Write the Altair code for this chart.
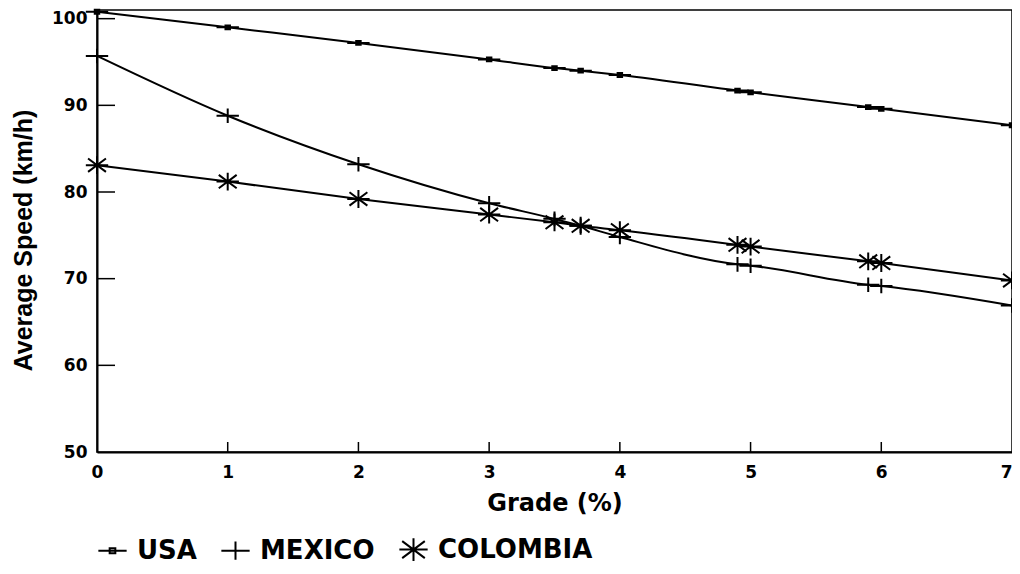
import altair as alt
import pandas as pd

grade = [0, 1, 2, 3, 3.5, 3.7, 4, 4.9, 5, 5.9, 6, 7]
usa = [100.8, 99.0, 97.2, 95.3, 94.3, 94.0, 93.5, 91.7, 91.5, 89.8, 89.6, 87.7]
mexico = [95.7, 88.8, 83.2, 78.7, 76.9, 76.1, 74.8, 71.65, 71.5, 69.3, 69.15, 66.9]
colombia = [83.1, 81.2, 79.2, 77.4, 76.5, 76.1, 75.6, 73.9, 73.7, 72.0, 71.8, 69.8]
series = ["USA", "MEXICO", "COLOMBIA"]
x_ticks = [1, 2, 3, 4, 5, 6]
y_ticks = [60, 70, 80, 90, 100]

rows = []
for name, vals in zip(series, [usa, mexico, colombia]):
    for g, v in zip(grade, vals):
        rows.append({"grade": g, "speed": v, "series": name})
df = pd.DataFrame(rows)

W, H = 915, 442
FONT = "DejaVu Sans"

shape_paths = [
    "M-1,0L1,0M-0.2,-0.17L0.2,-0.17L0.2,0.17L-0.2,0.17Z",
    "M-1,0L1,0M0,-0.65L0,0.65",
    "M-1,0L1,0M0,-0.8L0,0.8M-0.8,-0.6L0.8,0.6M-0.8,0.6L0.8,-0.6",
]

xs = alt.Scale(domain=[0, 7], nice=False, zero=False)
ys = alt.Scale(domain=[50, 101], nice=False, zero=False)

x_axis = alt.Axis(
    values=list(range(0, 8)), format="d", grid=False, ticks=False, tickSize=0,
    domainColor="black", domainWidth=2, labelFlush=False,
    labelAlign={"expr": "datum.value == 7 ? 'right' : 'center'"},
    labelFont=FONT, labelFontWeight="bold", labelFontSize=17, labelColor="black",
    labelBaseline="alphabetic", labelPadding=25,
    title="Grade (%)", titleFont=FONT, titleFontWeight="bold", titleFontSize=24,
    titleColor="black", titleBaseline="alphabetic", titleY=58,
)
y_axis = alt.Axis(
    values=[50, 60, 70, 80, 90, 100], grid=False, ticks=False, tickSize=0,
    domainColor="black", domainWidth=2, labelFlush=False,
    labelFont=FONT, labelFontWeight="bold", labelFontSize=17, labelColor="black",
    labelPadding=10, labelBaseline="middle",
    title="Average Speed (km/h)", titleFont="Liberation Sans", titleFontWeight="bold",
    titleFontSize=25, titleColor="black", titleAngle=270, titleBaseline="middle",
    titleX=-74, titleY=230,
)

base = alt.Chart(df)
lines = base.mark_line(color="black", strokeWidth=2, interpolate="monotone").encode(
    x=alt.X("grade:Q", scale=xs, axis=x_axis),
    y=alt.Y("speed:Q", scale=ys, axis=y_axis),
    detail="series:N",
)
points = base.mark_point(filled=False, color="black", strokeWidth=2, opacity=1, size=500).encode(
    x=alt.X("grade:Q", scale=xs),
    y=alt.Y("speed:Q", scale=ys),
    shape=alt.Shape(
        "series:N",
        scale=alt.Scale(domain=series, range=shape_paths),
        sort=series,
        legend=alt.Legend(
            orient="none", legendX=0, legendY=524, direction="horizontal", title=None,
            labelFont=FONT, labelFontWeight="bold", labelFontSize=26, labelColor="black",
            labelOffset=9, columnPadding=20, padding=0, symbolSize=800,
            symbolStrokeWidth=2, symbolStrokeColor="black", symbolOpacity=1,
        ),
    ),
)

xt = alt.Chart(pd.DataFrame({"t": x_ticks})).mark_rule(color="black", strokeWidth=1.5).encode(
    x=alt.X("t:Q", scale=xs), y=alt.value(H), y2=alt.value(H - 10)
)
yt = alt.Chart(pd.DataFrame({"t": y_ticks})).mark_rule(color="black", strokeWidth=1.5).encode(
    y=alt.Y("t:Q", scale=ys), x=alt.value(0), x2=alt.value(18)
)

chart = (
    alt.layer(lines, xt, yt, points)
    .properties(
        width=W, height=H,
        autosize=alt.AutoSizeParams(type="none"),
        padding={"left": 89, "top": 2, "right": 0, "bottom": 118},
        background="white",
    )
    .configure_view(stroke="black", strokeWidth=1.5)
)

chart.save("out.html", embed_options={"renderer": "svg", "actions": False})
